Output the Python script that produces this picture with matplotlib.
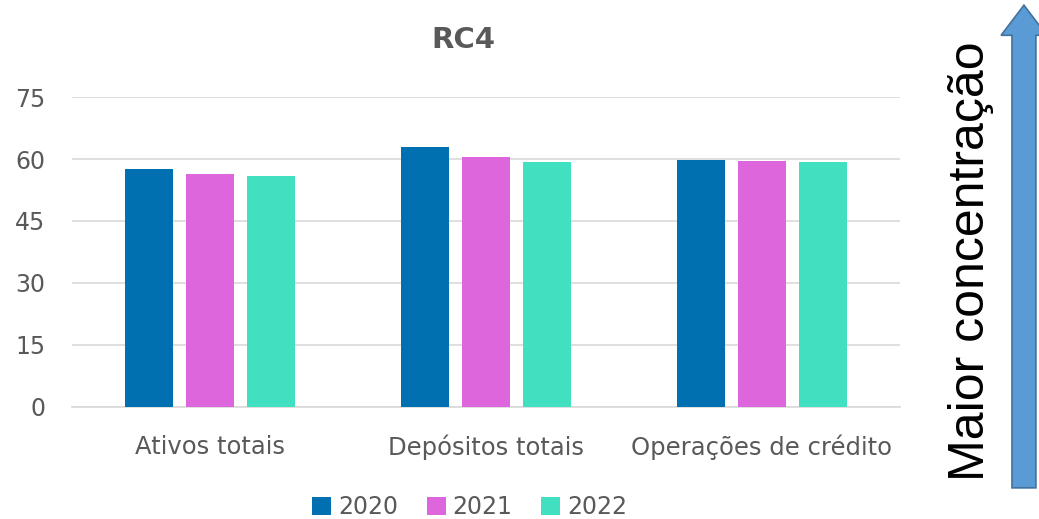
import numpy as np
import matplotlib.pyplot as plt
from matplotlib.patches import FancyArrow

categories = ["Ativos totais", "Depósitos totais", "Operações de crédito"]
years = ["2020", "2021", "2022"]
v2020 = [57.5, 63.0, 59.8]
v2021 = [56.4, 60.5, 59.5]
v2022 = [56.0, 59.2, 59.4]
colors = ["#0070B0", "#DD66DD", "#40E0C0"]

fig = plt.figure(figsize=(10.39, 5.19), dpi=100)
ax = fig.add_axes([0.069, 0.216, 0.797, 0.597])

x = np.arange(len(categories))
w = 0.174
step = 0.221
for i, (vals, yr) in enumerate(zip([v2020, v2021, v2022], years)):
    ax.bar(x + (i - 1) * step, vals, width=w, color=colors[i], label=yr, zorder=3)

ax.set_xlim(-0.5, 2.5)
ax.set_ylim(0, 75)
ax.set_yticks([0, 15, 30, 45, 60, 75])
ax.set_xticks(x)
ax.set_xticklabels(categories)
ax.tick_params(axis="both", length=0, labelsize=17, colors="#595959")
ax.tick_params(axis="x", labelsize=17.5, pad=20)
ax.tick_params(axis="y", pad=19)
ax.grid(axis="y", color="#D9D9D9", linewidth=1.2, zorder=0)
for s in ["top", "right", "left"]:
    ax.spines[s].set_visible(False)
ax.spines["bottom"].set_color("#D9D9D9")
ax.spines["bottom"].set_linewidth(1.2)

fig.text(0.446, 0.923, "RC4", ha="center", va="center", fontsize=21,
         fontweight="bold", color="#595959")

fig.legend(loc="center", bbox_to_anchor=(0.452, 0.023), ncol=3, frameon=False,
           fontsize=17, handlelength=0.8, handleheight=0.8, handletextpad=0.3,
           columnspacing=1.2, labelcolor="#595959")

# arrow on the right
arr = FancyArrow(0.9855, 0.06, 0, 0.93, width=0.023, head_width=0.044,
                 head_length=0.058, length_includes_head=True,
                 transform=fig.transFigure, facecolor="#5B9BD5",
                 edgecolor="#41719C", linewidth=1.2)
fig.add_artist(arr)
fig.text(0.935, 0.497, "Maior concentração", rotation=90, ha="center",
         va="center", fontsize=36, color="black", family="Liberation Sans")

fig.savefig("out.png", dpi=100)
